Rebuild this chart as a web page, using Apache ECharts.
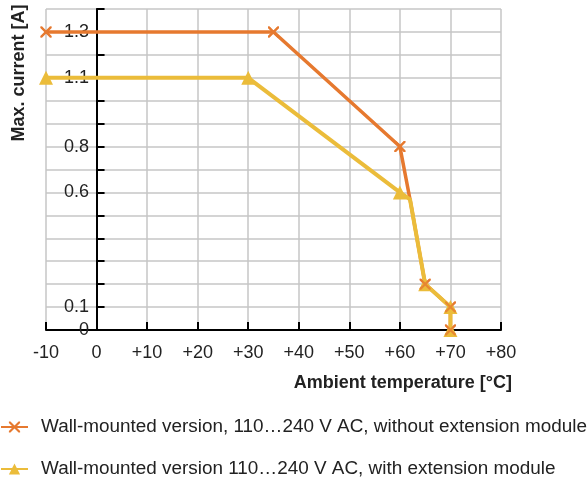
<!DOCTYPE html>
<html>
<head>
<meta charset="utf-8">
<script src="https://cdn.jsdelivr.net/npm/echarts@6/dist/echarts.min.js"></script>
<style>
html,body{margin:0;padding:0;background:#fff;}
#chart{width:588px;height:482px;}
</style>
</head>
<body>
<div id="chart"></div>
<script>
// ---- data ----
const seriesNames = [
  'Wall-mounted version, 110…240 V AC, without extension module',
  'Wall-mounted version 110…240 V AC, with extension module'
];
const tempWithout = [-10, 35, 60, 62, 65, 70, 70];
const currentWithout = [1.3, 1.3, 0.8, 0.57, 0.2, 0.1, 0];
const tempWith = [-10, 30, 60, 62, 65, 70, 70];
const currentWith = [1.1, 1.1, 0.6, 0.57, 0.2, 0.1, 0];
const markerShown = [true, true, true, false, true, true, true];
const yTickLabels = [0, 0.1, 0.6, 0.8, 1.1, 1.3];
const xTickLabels = {'-10': '-10', '0': '0', '10': '+10', '20': '+20', '30': '+30', '40': '+40', '50': '+50', '60': '+60', '70': '+70', '80': '+80'};
const yAxisTitle = 'Max. current [A]';
const xAxisTitle = 'Ambient temperature [°C]';

const ORANGE = '#E6792F';
const YELLOW = '#EBBC3A';
const FONT = 'Liberation Sans, Arial, Helvetica, sans-serif';
const XSYM = 'path://M0,0 L1.4,0 L5,3.6 L8.6,0 L10,0 L10,1.4 L6.4,5 L10,8.6 L10,10 L8.6,10 L5,6.4 L1.4,10 L0,10 L0,8.6 L3.6,5 L0,1.4 Z';

function build(xs, ys) {
  return xs.map((x, i) => markerShown[i] ? [x, ys[i]] : {value: [x, ys[i]], symbol: 'none'});
}

const chart = echarts.init(document.getElementById('chart'), null, {renderer: 'canvas'});
chart.setOption({
  animation: false,
  backgroundColor: '#fff',
  grid: {left: 46, right: 87, top: 9, bottom: 152},
  xAxis: {
    type: 'value', min: -10, max: 80, interval: 10,
    axisLine: {show: true, onZero: true, lineStyle: {color: '#000', width: 2}},
    axisTick: {show: true, inside: true, length: 8, lineStyle: {color: '#000', width: 2}},
    axisLabel: {color: '#222', fontSize: 18, fontFamily: FONT, margin: 14,
      formatter: v => xTickLabels[String(Math.round(v))] || ''},
    splitLine: {show: true, lineStyle: {color: '#c6c6c6', width: 1.5}}
  },
  yAxis: {
    type: 'value', min: 0, max: 1.4, interval: 0.1,
    axisLine: {show: true, onZero: true, lineStyle: {color: '#000', width: 2}},
    axisTick: {show: true, inside: true, length: 8, lineStyle: {color: '#000', width: 2}},
    axisLabel: {color: '#222', fontSize: 18, fontFamily: FONT, margin: -43,
      formatter: v => {
        const r = Math.round(v * 10) / 10;
        return yTickLabels.indexOf(r) >= 0 ? String(r) : '';
      }},
    splitLine: {show: true, lineStyle: {color: '#c6c6c6', width: 1.5}}
  },
  legend: {
    orient: 'vertical', left: 0, top: 417, itemGap: 22, padding: 0,
    itemWidth: 27, itemHeight: 14,
    textStyle: {color: '#222', fontSize: 18.9, fontFamily: FONT, lineHeight: 20, padding: [0, 0, 0, 8]},
    data: [seriesNames[0], seriesNames[1]]
  },
  series: [
    {
      name: seriesNames[0], type: 'line', z: 2,
      data: build(tempWithout, currentWithout),
      symbol: XSYM, symbolSize: 11,
      lineStyle: {color: ORANGE, width: 3.5},
      itemStyle: {color: ORANGE}
    },
    {
      name: seriesNames[1], type: 'line', z: 3,
      data: build(tempWith, currentWith),
      symbol: 'triangle', symbolSize: 14,
      lineStyle: {color: YELLOW, width: 4},
      itemStyle: {color: YELLOW}
    },
    {
      name: 'markers', type: 'scatter', z: 4,
      data: build(tempWithout, currentWithout),
      symbol: XSYM, symbolSize: 11,
      itemStyle: {color: ORANGE}, silent: true
    }
  ],
  graphic: [
    {type: 'text', x: 19, y: 73, rotation: Math.PI / 2,
      style: {text: yAxisTitle, fill: '#222', font: 'bold 18px ' + FONT, align: 'center', verticalAlign: 'middle'}},
    {type: 'text', x: 512, y: 383,
      style: {text: xAxisTitle, fill: '#222', font: 'bold 18px ' + FONT, align: 'right', verticalAlign: 'middle'}}
  ]
});
</script>
</body>
</html>
